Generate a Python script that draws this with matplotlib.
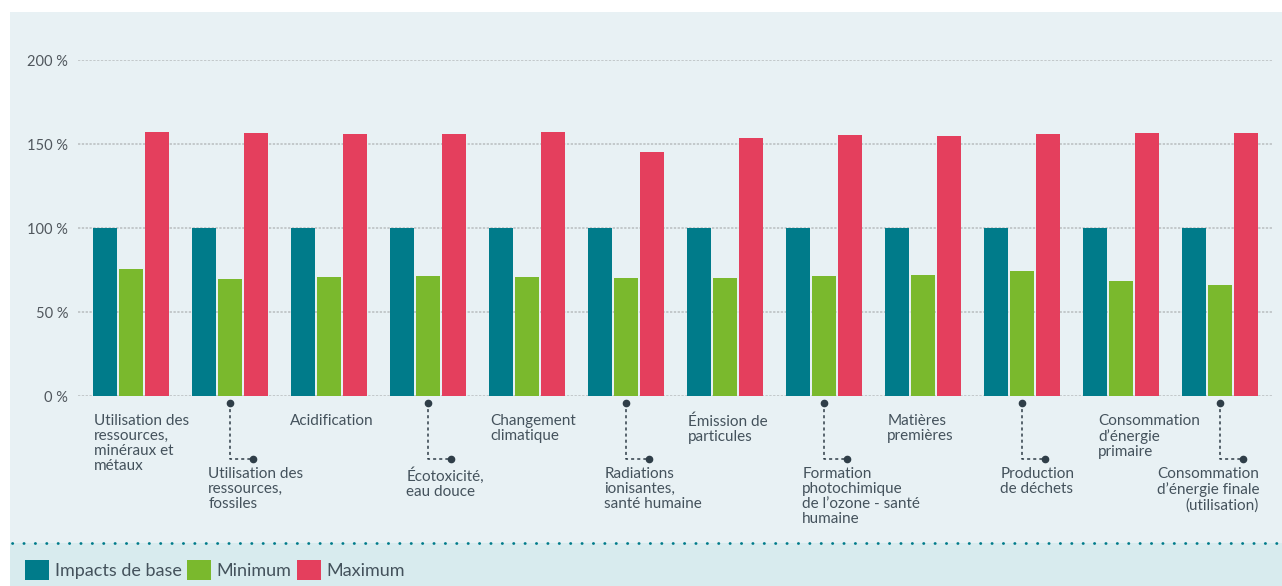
import matplotlib.pyplot as plt
from matplotlib.patches import Patch, Rectangle
from matplotlib.lines import Line2D
import numpy as np

plt.rcParams['font.family'] = ['Lato', 'DejaVu Sans']

# Data
categories = [
    "Utilisation des\nressources,\nminéraux et\nmétaux",
    "Utilisation des\nressources,\nfossiles",
    "Acidification",
    "Écotoxicité,\neau douce",
    "Changement\nclimatique",
    "Radiations\nionisantes,\nsanté humaine",
    "Émission de\nparticules",
    "Formation\nphotochimique\nde l’ozone - santé\nhumaine",
    "Matières\npremières",
    "Production\nde déchets",
    "Consommation\nd’énergie\nprimaire",
    "Consommation\nd’énergie finale\n(utilisation)",
]
base = [100, 100, 100, 100, 100, 100, 100, 100, 100, 100, 100, 100]
minimum = [75.6, 69.6, 70.8, 71.4, 70.8, 70.2, 70.2, 71.4, 72.0, 74.4, 68.5, 66.0]
maximum = [157.1, 156.5, 156.0, 156.0, 157.1, 145.2, 153.6, 155.4, 154.8, 156.0, 156.5, 156.5]
series_names = ["Impacts de base", "Minimum", "Maximum"]
yticks = [0, 50, 100, 150, 200]

teal = "#007b8a"
green = "#7ab92d"
red = "#e43f5d"
panel = "#e8f1f4"
legend_bg = "#d8ebee"
text_col = "#44525c"
dark = "#2f3e48"

W, H = 1282, 586
fig = plt.figure(figsize=(W / 100, H / 100), dpi=100, facecolor="white")

# background panels
fig.add_artist(Rectangle((10 / W, (H - 543) / H), 1, (543 - 12) / H,
                         transform=fig.transFigure, facecolor=panel,
                         edgecolor="none", zorder=-10))
fig.add_artist(Rectangle((10 / W, 0), 1, (H - 543) / H,
                         transform=fig.transFigure, facecolor=legend_bg,
                         edgecolor="none", zorder=-10))
fig.add_artist(Line2D([12 / W, 1], [(H - 543) / H] * 2, transform=fig.transFigure,
                      color=teal, linewidth=2, linestyle=(0, (0.1, 4)),
                      solid_capstyle="round", dash_capstyle="round", zorder=-5))

ax = fig.add_axes([78 / W, 1 - 396 / H, 1195 / W, 336 / H])
ax.set_facecolor("none")

x = np.arange(len(categories))
bw = 24 / 99
step = 26 / 99
ax.bar(x - step, base, bw, color=teal, zorder=3)
ax.bar(x, minimum, bw, color=green, zorder=3)
ax.bar(x + step, maximum, bw, color=red, zorder=3)

ax.set_xlim(-53 / 99, 11 + 53 / 99)
ax.set_ylim(0, 200)
ax.set_yticks(yticks)
ax.set_yticklabels([f"{t} %" for t in yticks], fontsize=10.5, color="#50575d")
ax.tick_params(axis="y", length=0, pad=7)
ax.set_xticks([])
ax.yaxis.grid(True, color="#b9bdbf", linestyle=(0, (1.5, 1)), linewidth=1.1, zorder=0)
for s in ax.spines.values():
    s.set_visible(False)

# category labels, alternating rows with connectors
px = 1.68  # pixels per data unit on y
odd_offsets = [-0.37, -0.39, -0.37, -0.37, -0.36, -0.23]
lbl = dict(fontsize=11, color=text_col, linespacing=1.1, clip_on=False)
for i, label in enumerate(categories):
    if i % 2 == 0:
        ax.text(i + odd_offsets[i // 2], -18 / px, label, ha="left", va="top", **lbl)
    else:
        y0, y1 = -7 / px, -63 / px
        x1 = i + 23 / 99
        ax.plot([i, i, x1], [y0, y1, y1], color=dark, linewidth=1.1,
                linestyle=(0, (2, 2)), clip_on=False, zorder=4)
        ax.plot([i, x1], [y0, y1], "o", color=dark, markersize=4.5,
                clip_on=False, zorder=4)
        if i == len(categories) - 1:
            ax.text(i + 39 / 99, -71 / px, label, ha="right", va="top",
                    multialignment="right", **lbl)
        else:
            ax.text(i - 0.22, -71 / px, label, ha="left", va="top", **lbl)

handles = [Patch(facecolor=c, edgecolor="none") for c in (teal, green, red)]
fig.legend(handles, series_names, loc="lower left",
           bbox_to_anchor=(14 / W, -5 / H), ncol=3, frameon=False,
           fontsize=13, handlelength=1.35, handleheight=1.35,
           handletextpad=0.3, columnspacing=0.3, labelcolor=text_col,
           borderaxespad=0.2)

fig.savefig("out.png", dpi=100, facecolor="white")
